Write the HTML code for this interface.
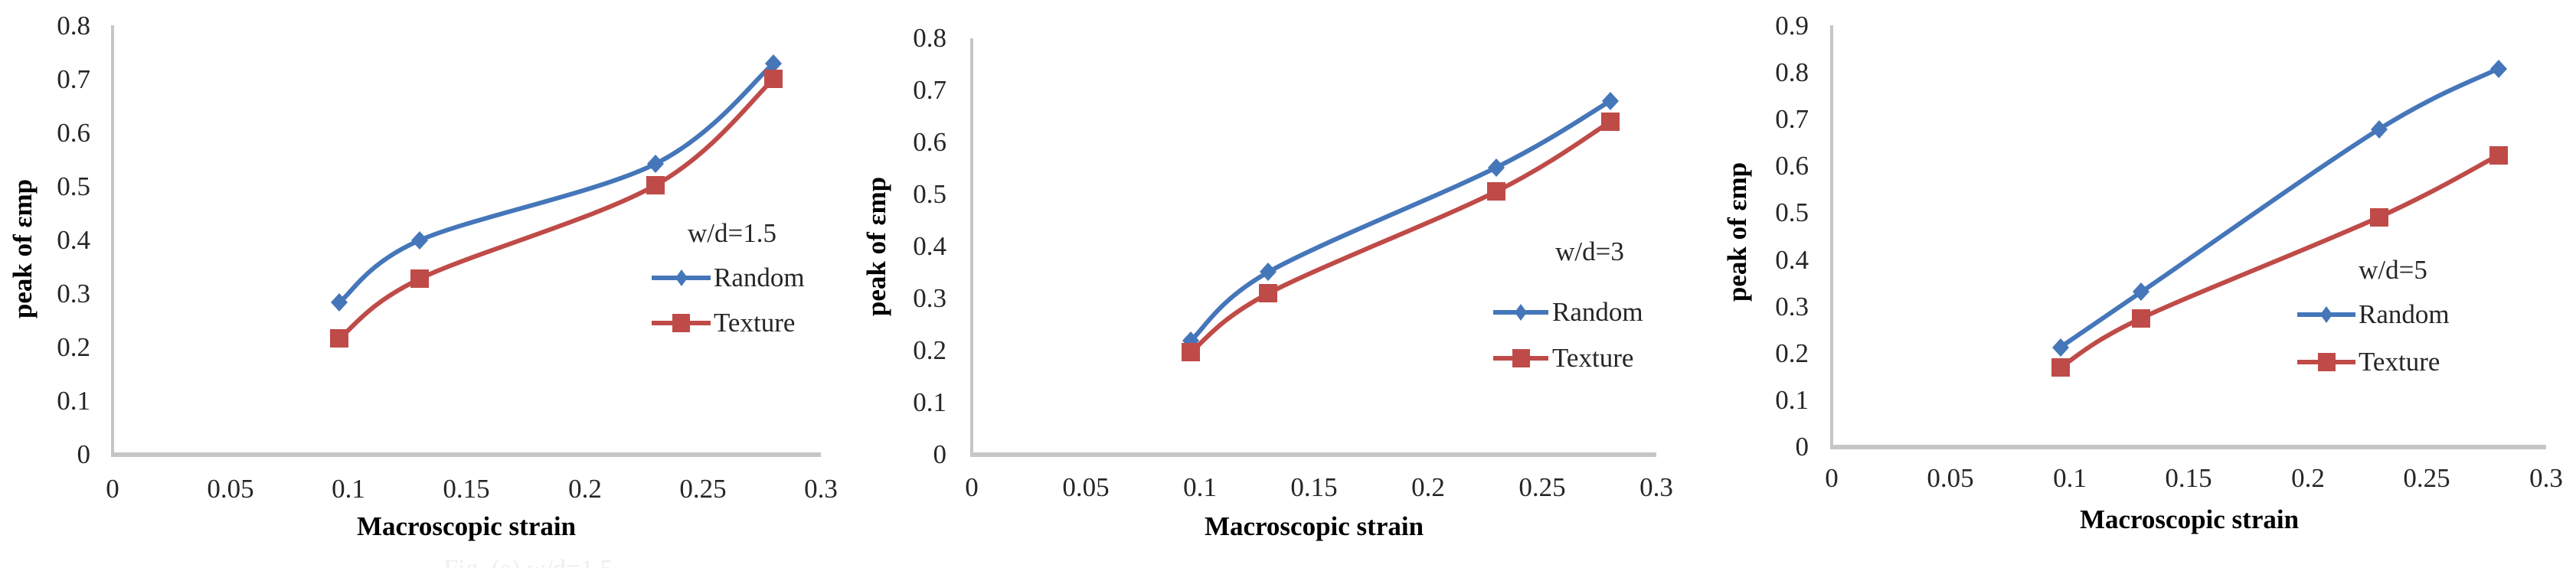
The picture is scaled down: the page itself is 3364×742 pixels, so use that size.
<!DOCTYPE html>
<html><head><meta charset="utf-8"><style>
html,body{margin:0;padding:0;background:#fff;}
svg{display:block;}
text{font-family:"Liberation Serif","Times New Roman",serif;}
.t{font-size:35px;fill:#262626;}
.b{font-size:35px;font-weight:bold;fill:#000;}
.ax{stroke:#c6c6c6;fill:none;}
.r{stroke:#4576b9;stroke-width:6;fill:none;stroke-linejoin:round;stroke-linecap:round;}
.s{stroke:#bf4b48;stroke-width:6;fill:none;stroke-linejoin:round;stroke-linecap:round;}
.rd{fill:#4576b9;}
.sq{fill:#bf4b48;}
</style></head><body>
<svg width="3364" height="742" viewBox="0 0 3364 742" xmlns="http://www.w3.org/2000/svg">
<rect width="3364" height="742" fill="#fff"/>

<!-- ============ Chart 1 ============ -->
<line class="ax" x1="147" y1="33" x2="147" y2="597" stroke-width="4"/>
<line class="ax" x1="145" y1="594" x2="1072" y2="594" stroke-width="6"/>
<g class="t" text-anchor="end">
<text x="118" y="605">0</text>
<text x="118" y="535">0.1</text>
<text x="118" y="465">0.2</text>
<text x="118" y="395">0.3</text>
<text x="118" y="325">0.4</text>
<text x="118" y="255">0.5</text>
<text x="118" y="185">0.6</text>
<text x="118" y="115">0.7</text>
<text x="118" y="45">0.8</text>
</g>
<g class="t" text-anchor="middle">
<text x="147" y="650">0</text>
<text x="301" y="650">0.05</text>
<text x="455" y="650">0.1</text>
<text x="609" y="650">0.15</text>
<text x="764" y="650">0.2</text>
<text x="918" y="650">0.25</text>
<text x="1072" y="650">0.3</text>
</g>
<text class="b" x="609" y="699" text-anchor="middle">Macroscopic strain</text>
<text class="b" transform="translate(41,325) rotate(-90)" text-anchor="middle">peak of εmp</text>

<path class="r" d="M443,395.2 C460.5,381.7 479,344.2 547.8,314 C616.7,283.8 779,252.4 856.1,213.9 C933.2,175.4 984.5,104.8 1010.2,83"/>
<path class="s" d="M443,442.1 C460.5,429.2 479,397.8 547.8,364.4 C616.7,331 779,285.4 856.1,241.9 C933.2,198.4 984.5,126.4 1010.2,103.3"/>
<g class="rd">
<polygon points="443,383 454,395 443,407 432,395"/>
<polygon points="548,302 559,314 548,326 537,314"/>
<polygon points="856,202 867,214 856,226 845,214"/>
<polygon points="1010,71 1021,83 1010,95 999,83"/>
</g>
<g class="sq">
<rect x="431" y="430" width="24" height="24"/>
<rect x="536" y="352" width="24" height="24"/>
<rect x="844" y="230" width="24" height="24"/>
<rect x="998" y="91" width="24" height="24"/>
</g>
<text class="t" x="956" y="316" text-anchor="middle">w/d=1.5</text>
<line x1="851" y1="363" x2="928" y2="363" stroke="#4576b9" stroke-width="6"/>
<polygon class="rd" points="890,352 898,363 890,374 882,363"/>
<text class="t" x="932" y="374">Random</text>
<line x1="851" y1="422" x2="928" y2="422" stroke="#bf4b48" stroke-width="6"/>
<rect class="sq" x="878" y="410" width="23" height="24"/>
<text class="t" x="932" y="433">Texture</text>
<text x="690" y="754" text-anchor="middle" style="font-size:34px;fill:#efefef;">Fig. (a) w/d=1.5</text>

<!-- ============ Chart 2 ============ -->
<line class="ax" x1="1269" y1="50" x2="1269" y2="597" stroke-width="4"/>
<line class="ax" x1="1267" y1="594" x2="2163" y2="594" stroke-width="6"/>
<g class="t" text-anchor="end">
<text x="1236" y="605">0</text>
<text x="1236" y="537">0.1</text>
<text x="1236" y="469">0.2</text>
<text x="1236" y="401">0.3</text>
<text x="1236" y="333">0.4</text>
<text x="1236" y="265">0.5</text>
<text x="1236" y="197">0.6</text>
<text x="1236" y="129">0.7</text>
<text x="1236" y="61">0.8</text>
</g>
<g class="t" text-anchor="middle">
<text x="1269" y="648">0</text>
<text x="1418" y="648">0.05</text>
<text x="1567" y="648">0.1</text>
<text x="1716" y="648">0.15</text>
<text x="1865" y="648">0.2</text>
<text x="2014" y="648">0.25</text>
<text x="2163" y="648">0.3</text>
</g>
<text class="b" x="1716" y="699" text-anchor="middle">Macroscopic strain</text>
<text class="b" transform="translate(1156,322) rotate(-90)" text-anchor="middle">peak of εmp</text>

<path class="r" d="M1555.1,445.1 C1572,430.1 1589.9,393.1 1656.4,355.3 C1723,317.6 1879.9,255.9 1954.4,218.6 C2028.9,181.3 2078.6,146.1 2103.4,131.6"/>
<path class="s" d="M1555.1,460 C1572,447.2 1589.9,418.2 1656.4,383.2 C1723,348.2 1879.9,287.3 1954.4,249.9 C2028.9,212.5 2078.6,174 2103.4,158.8"/>
<g class="rd">
<polygon points="1555,433 1566,445 1555,457 1544,445"/>
<polygon points="1656,343 1667,355 1656,367 1645,355"/>
<polygon points="1954,207 1965,219 1954,231 1943,219"/>
<polygon points="2103,120 2114,132 2103,144 2092,132"/>
</g>
<g class="sq">
<rect x="1543" y="448" width="24" height="24"/>
<rect x="1644" y="371" width="24" height="24"/>
<rect x="1942" y="238" width="24" height="24"/>
<rect x="2091" y="147" width="24" height="24"/>
</g>
<text class="t" x="2076" y="340" text-anchor="middle">w/d=3</text>
<line x1="1950" y1="408" x2="2022" y2="408" stroke="#4576b9" stroke-width="6"/>
<polygon class="rd" points="1986,397 1994,408 1986,419 1978,408"/>
<text class="t" x="2027" y="419">Random</text>
<line x1="1950" y1="468" x2="2022" y2="468" stroke="#bf4b48" stroke-width="6"/>
<rect class="sq" x="1975" y="456" width="23" height="24"/>
<text class="t" x="2027" y="479">Texture</text>

<!-- ============ Chart 3 ============ -->
<line class="ax" x1="2392" y1="33" x2="2392" y2="587" stroke-width="4"/>
<line class="ax" x1="2390" y1="584" x2="3325" y2="584" stroke-width="6"/>
<g class="t" text-anchor="end">
<text x="2362" y="595">0</text>
<text x="2362" y="534">0.1</text>
<text x="2362" y="473">0.2</text>
<text x="2362" y="412">0.3</text>
<text x="2362" y="351">0.4</text>
<text x="2362" y="289">0.5</text>
<text x="2362" y="228">0.6</text>
<text x="2362" y="167">0.7</text>
<text x="2362" y="106">0.8</text>
<text x="2362" y="45">0.9</text>
</g>
<g class="t" text-anchor="middle">
<text x="2392" y="636">0</text>
<text x="2547" y="636">0.05</text>
<text x="2703" y="636">0.1</text>
<text x="2858" y="636">0.15</text>
<text x="3014" y="636">0.2</text>
<text x="3169" y="636">0.25</text>
<text x="3325" y="636">0.3</text>
</g>
<text class="b" x="2859" y="690" text-anchor="middle">Macroscopic strain</text>
<text class="b" transform="translate(2280,303) rotate(-90)" text-anchor="middle">peak of εmp</text>

<path class="r" d="M2690.6,453.6 C2708.2,441.6 2726.9,428.9 2796.3,381.4 C2865.8,333.9 3029.6,217.2 3107.3,168.5 C3185.1,119.9 3236.9,102.7 3262.8,89.5"/>
<path class="s" d="M2690.6,480 C2708.2,469.3 2726.9,448.5 2796.3,415.7 C2865.8,383 3029.6,319 3107.3,283.5 C3185.1,248 3236.9,216.2 3262.8,202.7"/>
<g class="rd">
<polygon points="2691,442 2702,454 2691,466 2680,454"/>
<polygon points="2796,369 2807,381 2796,393 2785,381"/>
<polygon points="3107,157 3118,169 3107,181 3096,169"/>
<polygon points="3263,78 3274,90 3263,102 3252,90"/>
</g>
<g class="sq">
<rect x="2679" y="468" width="24" height="24"/>
<rect x="2784" y="404" width="24" height="24"/>
<rect x="3095" y="272" width="24" height="24"/>
<rect x="3251" y="191" width="24" height="24"/>
</g>
<text class="t" x="3125" y="364" text-anchor="middle">w/d=5</text>
<line x1="3000" y1="411" x2="3076" y2="411" stroke="#4576b9" stroke-width="6"/>
<polygon class="rd" points="3038,400 3046,411 3038,422 3030,411"/>
<text class="t" x="3080" y="422">Random</text>
<line x1="3000" y1="473" x2="3076" y2="473" stroke="#bf4b48" stroke-width="6"/>
<rect class="sq" x="3027" y="461" width="23" height="24"/>
<text class="t" x="3080" y="484">Texture</text>
</svg>
</body></html>
